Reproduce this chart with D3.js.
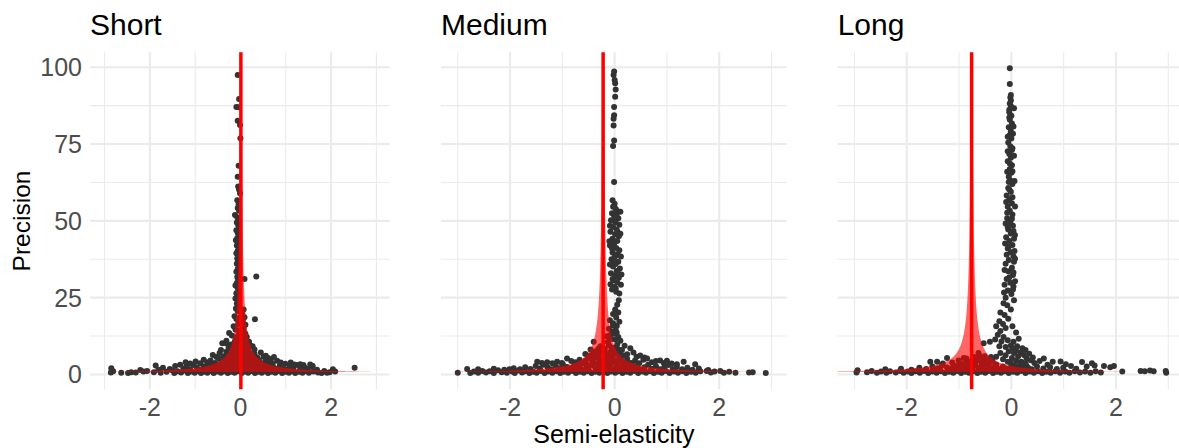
<!DOCTYPE html>
<html><head><meta charset="utf-8">
<script src="https://cdn.jsdelivr.net/npm/d3@7"></script>
<style>
body{margin:0;background:#fff;}
svg text{font-family:"Liberation Sans",Arial,sans-serif;}
</style>
</head><body>
<svg id="chart" width="1179" height="448"></svg>
<script>
// ---- data ----
const panelNames = ["Short", "Medium", "Long"];
const panelMeans = [0.02, -0.21, -0.75];
const xTickValues = [-2, 0, 2];
const xMinorValues = [-3, -1, 1, 3];
const yTickValues = [0, 25, 50, 75, 100];
const yMinorValues = [12.5, 37.5, 62.5, 87.5];
const critValue = 1.96;
const precisionRange = [0.65, 100];

const shortPts = [
[-0.05,97.3],[-0.02,89.5],[-0.08,86.9],[-0.03,86.8],[-0.05,82.4],[0.0,81],[0.01,76.7],[-0.03,67.8],[-0.05,64.2],[-0.04,61],[-0.02,60],[0.0,58.8],[-0.06,56.5],[-0.03,55.2],[-0.05,54],[-0.02,53.1],[-0.11,51.7],[-0.06,51],[-0.03,50.2],[-0.07,49.3],[-0.04,48.5],[-0.02,47.6],[-0.08,46.8],[-0.05,46],[-0.03,45.1],[-0.06,44.2],[-0.09,43.5],[-0.04,42.7],[-0.07,41.8],[-0.02,41],[-0.05,40.1],[-0.08,39.3],[-0.03,38.5],[-0.06,37.6],[-0.04,36.7],[-0.07,35.9],[-0.02,35],[-0.05,34.2],[-0.08,33.3],[-0.03,32.5],[-0.06,31.6],[-0.04,30.8],[0.1,30.9],[0.36,31.7],[-0.07,29.6],[-0.1,28.8],[-0.05,28],[-0.03,27.1],[-0.08,26.3],[-0.06,25.4],[-0.1,24.6],[-0.04,23.8],[-0.07,22.9],[-0.02,22.1],[-0.09,21.3],[-0.05,20.4],[0.05,19.6],[-0.12,18.8],[0.33,17.8],[-0.08,17.9],[0.06,17.1],[-0.04,16.3],[-0.14,15.5],[0.08,15],[-0.1,14.5],[-0.24,13.3],[0.0,13.8],[0.12,13.1],[-0.18,12.5],[-0.06,12.2],[0.05,11.8],[-0.3,10.8],[-0.39,10],[0.2,10.5],[-0.12,10.3],[0.1,9.9],[0.28,9],[-0.22,9.2],[0.0,9.5],
[0.08,21],[0.1,18.5],[0.12,16],[0.09,13.5],[0.15,12],
[-0.31,10],[-0.25,8.6],[-0.2,9.6],[-0.15,8.3],[-0.1,11.2],[-0.05,9.0],[0.03,10.4],[0.08,8.6],[0.13,9.6],[0.18,8.2],[0.23,9.3],[0.32,8.0],
[-0.6,6.2],[-0.52,5.5],[-0.45,6.8],[-0.42,7.8],[-0.36,5.8],[-0.3,7.2],[-0.24,6.0],[-0.18,8.0],[-0.12,5.4],[-0.06,6.9],[0.0,5.7],[0.05,7.5],[0.1,6.1],[0.15,5.3],[0.2,7.0],[0.25,5.8],[0.32,6.6],[0.38,5.4],[0.46,7.0],[0.52,5.6],[0.57,5.9],[0.62,5.2],[0.68,4.8],[0.75,5.5],
[-1.2,3.8],[-1.1,3.4],[-0.98,4.1],[-0.88,3.5],[-0.8,4.6],[-0.72,3.8],[-0.65,4.4],[-0.55,3.6],[-0.47,5.0],[-0.4,4.0],[-0.33,4.7],[-0.25,3.5],[-0.18,4.5],[-0.1,3.8],[-0.03,4.8],[0.05,3.6],[0.12,4.4],[0.2,3.4],[0.27,4.9],[0.35,3.9],[0.42,4.5],[0.5,3.5],[0.57,4.7],[0.65,4.0],[0.72,3.4],[0.82,4.3],[0.9,3.7],[1.0,3.3],[1.12,3.7],[1.2,3.1],[1.33,3.2],[1.4,2.9],[1.6,2.6],[1.55,3.1],
[-1.7,2.0],[-1.55,1.6],[-1.43,2.6],[-1.32,3.0],[-1.25,1.8],[-1.18,2.4],[-1.1,1.5],[-1.02,2.9],[-0.95,2.0],[-0.88,1.4],[-0.8,2.5],[-0.73,1.7],[-0.65,3.0],[-0.58,2.1],[-0.5,1.5],[-0.43,2.7],[-0.36,1.9],[-0.29,3.2],[-0.22,1.4],[-0.15,2.4],[-0.08,1.7],[0.0,2.9],[0.07,1.5],[0.14,2.3],[0.21,3.1],[0.28,1.8],[0.35,2.6],[0.42,1.4],[0.5,2.2],[0.57,3.0],[0.64,1.7],[0.72,2.5],[0.8,1.5],[0.88,2.8],[0.95,1.9],[1.03,1.4],[1.1,2.4],[1.18,1.7],[1.26,2.9],[1.33,1.5],[1.42,2.2],[1.5,1.6],[1.6,2.6],[1.7,1.4],
[-0.9,1.2],[-0.75,1.0],[-0.62,1.3],[-0.48,1.1],[-0.35,1.4],[-0.22,1.2],[-0.1,1.3],[0.02,1.1],[0.15,1.3],[0.28,1.2],[0.4,1.4],[0.53,1.1],[0.66,1.3],[0.78,1.1],[0.9,1.2],
[-0.7,2.2],[-0.55,2.6],[-0.4,2.3],[-0.26,2.0],[-0.12,2.6],[0.03,2.2],[0.17,2.7],[0.3,2.2],[0.45,2.8],[0.6,2.4],[0.75,2.0],
[-0.45,3.2],[-0.3,3.0],[-0.15,3.3],[0.0,3.4],[0.15,3.1],[0.3,3.3],[0.45,3.0],[0.6,3.3],
[-0.35,4.2],[-0.22,4.0],[-0.08,4.3],[0.08,4.1],[0.22,4.2],[0.36,4.0],
[-0.25,5.2],[-0.12,5.0],[0.05,5.1],[0.18,4.8],[0.3,5.4],
[-0.2,6.5],[-0.1,6.2],[0.04,6.6],[0.14,6.9],[0.24,6.6],
[-0.14,7.5],[-0.03,7.8],[0.1,7.2],[0.18,7.7],
[-0.1,9.8],[0.0,10.9],[0.05,9.0],[-0.02,12.8],[0.08,11.2],[-0.04,14.2],[0.04,16.0],[0.0,18.5],
[-2.85,0.5],[-2.84,1.9],[-2.8,0.9],[-2.62,0.4],[-2.47,0.3],[-2.4,0.6],[-2.3,0.5],[-2.2,1.3],[-2.13,0.8],[-2.05,1.0],[-1.9,0.6],[-1.86,2.8],[-1.8,1.4],[-1.75,0.4],[-1.62,0.7],[-1.5,1.2],[-1.45,0.3],[-1.38,0.9],[-1.3,0.5],[-1.22,1.1],[-1.15,0.3],[-1.08,0.8],[-1.0,0.4],[-0.93,1.0],[-0.86,0.3],[-0.8,0.7],[-0.72,0.4],[-0.66,1.0],[-0.58,0.3],[-0.5,0.8],[-0.42,0.4],[-0.35,0.9],[-0.27,0.3],[-0.2,0.7],[-0.12,0.4],[-0.05,0.9],[0.04,0.3],[0.1,0.8],[0.18,0.4],[0.25,1.0],[0.33,0.3],[0.4,0.7],[0.48,0.4],[0.55,0.9],[0.62,0.3],[0.7,0.7],[0.78,0.4],[0.85,1.0],[0.93,0.3],[1.0,0.7],[1.08,0.4],[1.15,0.9],[1.22,0.3],[1.3,0.7],[1.38,0.4],[1.45,1.0],[1.52,0.4],[1.62,0.8],[1.72,0.5],[1.8,0.3],[1.86,1.0],[1.92,0.4],[1.98,0.6],[2.05,1.5],[2.1,0.8],[2.53,2.0]
];

const mediumPts = [
[0.0,98.4],[-0.01,97.3],[0.01,95.7],[0.02,94.6],[0.03,92.6],[0.02,90.2],[0.0,86.9],[0.0,84.2],[-0.01,83.1],[-0.01,80.9],[0.0,76.0],[-0.02,74.2],[0.0,62.5],[-0.03,56.5],[0.01,55.4],
[-0.02,54.4],[0.03,53.8],[0.06,53.0],[-0.04,52.3],[0.0,51.5],[0.08,50.7],[-0.06,50.0],[0.03,49.3],[0.1,48.6],[-0.02,47.8],[0.05,47.0],[-0.07,46.3],[0.02,45.5],[0.09,44.8],[-0.03,44.0],[0.06,43.3],[0.0,42.5],[-0.08,41.8],[0.04,41.0],[0.1,40.3],[-0.03,39.5],[0.07,38.8],[0.01,38.0],[-0.05,37.3],[0.08,36.5],[0.03,35.8],[-0.02,35.0],[0.11,34.3],[0.05,33.5],[-0.06,32.8],[0.02,32.0],[0.09,31.3],[-0.01,30.5],[0.06,29.8],[0.13,29.0],[0.0,28.3],[-0.04,27.5],[0.04,26.8],
[0.05,52.1],[-0.01,49.9],[0.07,46.1],[0.02,43.1],[-0.04,40.8],[0.06,39.0],[0.0,36.2],[0.07,33.0],[-0.03,30.9],[0.03,27.9],
[0.12,52.8],[-0.08,48.2],[0.12,45.6],[-0.09,43.2],[0.13,38.2],[-0.08,35.6],[0.14,32.4],[-0.07,29.2],[0.1,26.2],[0.08,20.0],[0.1,17.0],[0.05,13.5],
[0.09,24],[0.06,22.5],[0.02,21],[-0.02,19.5],[0.04,18.4],[-0.08,17.5],[-0.02,16.5],[0.05,15.6],[-0.1,14.7],[-0.04,13.8],[0.0,13.1],[-0.14,12.3],[0.08,12.0],[-0.06,11.4],[0.12,10.8],
[-0.55,6.5],[-0.47,5.9],[-0.4,7.2],[-0.34,7.5],[-0.3,6.2],[-0.26,9.0],[-0.22,7.0],[-0.18,8.3],[-0.14,6.3],[-0.1,9.4],[-0.06,7.4],[-0.02,6.0],[0.02,8.5],[0.06,6.7],[0.1,7.9],[0.15,7.8],[0.2,9.2],[0.25,6.4],[0.31,8.4],[0.37,7.0],[0.43,5.6],[0.5,6.0],[0.58,5.4],[-0.39,10.5],[-0.45,8.0],
[-1.47,4.0],[-1.38,3.6],[-1.28,3.8],[-1.18,3.5],[-1.09,4.0],[-1.0,3.6],[-0.9,5.0],[-0.82,4.2],[-0.74,3.8],[-0.66,4.6],[-0.58,3.6],[-0.5,5.0],[-0.42,4.1],[-0.35,5.5],[-0.28,3.7],[-0.2,4.8],[-0.12,3.9],[-0.05,5.3],[0.03,4.2],[0.1,5.6],[0.18,3.8],[0.25,4.9],[0.33,3.6],[0.4,4.4],[0.48,3.5],[0.56,4.6],[0.63,5.0],[0.72,3.8],[0.8,4.2],[0.88,4.4],[0.95,3.6],[1.01,4.3],[1.1,3.4],[1.2,3.2],[1.33,4.0],[1.55,3.2],
[-1.2,1.1],[-1.05,1.2],[-0.9,1.3],[-0.75,1.1],[-0.62,1.3],[-0.48,1.0],[-0.35,1.3],[-0.22,1.1],[-0.08,1.3],[0.05,1.1],[0.18,1.2],[0.32,1.3],[0.45,1.0],[0.58,1.2],[0.7,1.1],
[-0.95,2.4],[-0.8,2.0],[-0.66,2.5],[-0.52,2.2],[-0.38,2.6],[-0.25,2.1],[-0.1,2.5],[0.04,2.2],[0.18,2.7],[0.32,2.4],[0.45,2.1],
[-0.68,3.2],[-0.52,3.0],[-0.37,3.3],[-0.22,3.1],[-0.08,3.0],[0.06,3.3],[0.2,3.1],[0.34,3.3],
[-0.55,4.3],[-0.4,4.0],[-0.26,4.3],[-0.12,4.5],[0.0,4.1],[0.14,4.4],[0.25,4.0],
[-0.45,5.4],[-0.3,5.1],[-0.16,5.6],[-0.03,5.0],[0.1,5.3],[0.18,6.0],
[-0.38,6.5],[-0.25,6.8],[-0.1,6.5],[0.04,7.2],[0.12,6.3],
[-0.3,8.2],[-0.18,7.6],[-0.05,8.6],[0.06,9.6],[-0.12,10.4],[0.02,11.2],[-0.08,12.6],[0.03,14.2],[-0.02,15.8],
[-2.6,1.5],[-2.3,1.7],[-2.1,1.4],[-1.92,1.9],[-1.8,1.5],[-1.7,2.2],[-1.6,1.6],[-1.5,2.6],[-1.42,1.8],[-1.35,3.0],[-1.27,2.1],[-1.2,1.5],[-1.12,2.7],[-1.05,1.9],[-0.98,3.2],[-0.9,2.3],[-0.83,1.6],[-0.76,2.9],[-0.69,2.0],[-0.62,3.3],[-0.55,1.5],[-0.48,2.5],[-0.41,3.4],[-0.34,1.8],[-0.27,2.8],[-0.2,1.4],[-0.13,2.4],[-0.06,3.3],[0.01,1.7],[0.08,2.7],[0.15,1.5],[0.22,2.3],[0.29,3.2],[0.36,1.8],[0.43,2.6],[0.5,1.4],[0.58,2.2],[0.65,3.0],[0.72,1.7],[0.8,2.5],[0.88,1.5],[0.96,2.2],[1.04,2.9],[1.12,1.6],[1.2,2.3],[1.3,1.5],[1.4,2.0],[1.5,1.4],[1.62,1.8],[1.8,1.3],
[-2.99,0.4],[-2.81,1.6],[-2.75,0.3],[-2.68,0.8],[-2.6,0.4],[-2.52,1.0],[-2.45,0.5],[-2.38,0.9],[-2.3,0.3],[-2.22,1.2],[-2.15,0.6],[-2.05,0.4],[-2.0,1.5],[-1.95,0.8],[-1.9,0.3],[-1.83,1.1],[-1.76,0.5],[-1.7,0.9],[-1.62,0.3],[-1.55,0.7],[-1.48,0.4],[-1.4,1.0],[-1.33,0.3],[-1.26,0.8],[-1.18,0.4],[-1.1,0.9],[-1.03,0.3],[-0.96,0.7],[-0.88,0.4],[-0.8,1.0],[-0.73,0.3],[-0.66,0.7],[-0.58,0.4],[-0.5,0.9],[-0.43,0.3],[-0.36,0.7],[-0.28,0.4],[-0.2,0.9],[-0.13,0.3],[-0.06,0.8],[0.02,0.4],[0.09,0.9],[0.16,0.3],[0.24,0.7],[0.31,0.4],[0.39,1.0],[0.46,0.3],[0.54,0.8],[0.61,0.4],[0.69,0.9],[0.76,0.3],[0.84,0.7],[0.91,0.4],[0.99,1.0],[1.06,0.3],[1.14,0.8],[1.22,0.4],[1.3,0.9],[1.38,0.3],[1.47,0.7],[1.56,0.4],[1.65,0.9],[1.77,1.0],[1.85,0.5],[1.92,0.8],[2.03,1.0],[2.1,0.4],[2.2,0.7],[2.32,0.4],[2.58,0.5],[2.65,0.6],[2.9,0.3]
];

const longPts = [
[-0.02,99.5],[-0.02,94.4],[0.0,90.8],[-0.01,90.0],[0.0,89.0],[-0.02,88.0],[0.0,87.2],[-0.03,86.0],
[-0.03,85.2],[0.01,84.0],[-0.02,82.7],[0.02,81.5],[-0.04,80.3],[0.0,79.0],[-0.02,77.8],[0.01,76.6],[-0.05,75.3],[-0.01,74.1],[0.02,72.9],[-0.03,71.6],[0.0,70.4],[-0.06,69.2],[0.02,67.9],[-0.02,66.7],[0.01,65.5],[-0.04,64.2],[-0.01,63.0],[0.03,61.8],[-0.05,60.5],[0.0,59.3],[-0.08,58.1],[-0.03,56.8],[0.02,55.6],[-0.06,54.4],[-0.02,53.1],[0.03,51.9],[-0.07,50.7],[-0.01,49.4],[0.04,48.2],[-0.05,47.0],[0.0,45.7],[-0.09,44.5],[-0.03,43.3],[0.03,42.0],[-0.06,40.8],[0.0,39.6],[0.05,38.3],[-0.04,37.1],[-0.1,35.9],[0.02,34.6],[-0.05,33.4],[0.04,32.2],[-0.08,30.9],[-0.01,29.7],[0.05,28.5],[-0.06,27.2],[0.01,26.0],[-0.1,24.8],
[0.03,57.5],[-0.07,52.5],[0.05,46.5],[-0.04,41.5],[0.06,36.5],[-0.03,31.5],[0.04,27.5],[-0.02,68.5],[0.03,73.5],[-0.04,62.5],[0.06,44.0],[-0.08,38.8],[0.02,50.5],[-0.03,60.0],[0.05,33.0],[-0.12,29.0],[0.07,40.0],[-0.06,47.8],
[0.06,86.5],[0.05,80.5],[-0.06,77.2],[0.06,71.0],[-0.07,65.8],[0.07,62.8],[-0.09,56.0],[0.08,54.5],[-0.1,49.0],[0.08,45.2],[-0.11,42.5],[0.08,37.5],[-0.12,33.8],[0.08,30.2],[-0.13,26.5],[0.06,24.0],[0.03,66.0],[-0.06,72.5],[0.04,78.2],[-0.03,83.5],
[-0.14,23.0],[-0.07,22.4],[0.0,21.0],[-0.2,20.0],[-0.12,19.2],[-0.05,18.0],[-0.22,17.2],[-0.15,16.3],[-0.28,15.5],[-0.1,15.0],[-0.2,14.0],[-0.25,12.8],[-0.14,12.0],[-0.3,11.2],[-0.4,10.5],[-0.52,10.0],[-0.18,10.6],[-0.06,11.0],[-0.22,9.0],[-0.1,8.8],[0.0,9.3],
[0.04,8.4],[0.1,7.6],[0.19,7.0],[0.25,6.2],[0.06,6.8],[0.14,5.8],[0.3,5.0],[0.38,4.5],[0.02,5.2],[0.1,4.4],[0.2,4.0],[0.28,3.4],[0.0,3.6],[0.08,2.8],[0.16,2.2],[0.24,2.6],[0.33,2.0],[-0.04,7.4],[-0.1,6.1],[-0.15,4.8],[-0.06,4.0],[0.12,9.0],[0.22,8.4],[-0.2,6.8],[-0.28,5.6],[-0.35,4.2],
[0.05,10.5],[0.15,11.5],[0.1,13.5],[0.03,15.5],[0.28,7.8],[0.35,6.6],[0.42,5.4],[0.18,3.2],[0.3,2.6],[0.12,1.6],[0.26,1.2],[0.4,1.5],
[0.45,3.6],[0.55,4.2],[0.63,5.0],[0.7,3.0],[0.8,4.0],[0.95,4.1],[1.05,3.2],[1.15,2.6],[1.36,3.9],[1.45,2.4],[1.55,3.5],[1.6,2.8],[1.78,2.6],[1.9,2.2],[1.97,2.6],[0.5,2.4],[0.62,1.8],[0.75,2.2],[0.88,1.6],[1.0,2.0],[1.25,1.7],
[-1.54,4.0],[-1.41,4.0],[-1.22,5.2],[-0.9,5.2],[-0.65,4.5],[-0.52,4.9],[-0.6,6.0],[-0.8,4.0],[-1.3,3.4],[-1.12,3.7],[-1.0,4.4],[-0.72,3.5],[-0.45,3.8],[-0.55,3.0],[-0.38,5.5],
[-1.5,1.2],[-1.35,1.1],[-1.2,1.3],[-1.05,1.1],[-0.9,1.3],[-0.76,1.1],[-0.62,1.3],[-0.48,1.1],[-0.34,1.2],[-0.2,1.3],[-0.06,1.1],[0.08,1.2],
[-1.1,2.5],[-0.98,2.8],[-0.85,2.4],[-0.72,2.6],[-0.58,2.3],[-0.44,2.8],[-0.3,2.3],
[-0.95,3.3],[-0.82,3.1],[-0.68,3.4],[-0.55,3.6],[-0.42,3.2],[-0.28,3.1],
[-0.85,4.4],[-0.7,4.1],[-0.58,4.3],[-0.45,4.6],
[-0.7,5.5],[-0.85,5.0],[-0.5,5.8],[-0.62,6.8],
[-2.4,1.5],[-2.1,1.7],[-1.9,1.4],[-1.75,2.0],[-1.62,1.6],[-1.5,2.4],[-1.4,1.8],[-1.32,2.8],[-1.22,2.1],[-1.14,1.5],[-1.05,2.6],[-0.97,1.9],[-0.9,3.0],[-0.82,2.2],[-0.75,1.6],[-0.68,2.8],[-0.6,2.0],[-0.52,1.5],[-0.45,2.5],[-0.38,1.8],[-0.3,2.9],[-0.23,1.6],[-0.15,2.4],[-0.08,1.7],[0.0,2.2],
[-2.95,0.5],[-2.93,1.2],[-2.75,0.6],[-2.66,1.0],[-2.56,0.4],[-2.48,0.8],[-2.38,0.4],[-2.31,0.9],[-2.2,0.5],[-2.12,1.0],[-2.05,0.4],[-1.97,0.8],[-1.9,0.3],[-1.82,0.9],[-1.74,0.4],[-1.66,1.0],[-1.58,0.3],[-1.5,0.8],[-1.42,0.4],[-1.34,0.9],[-1.26,0.3],[-1.18,0.7],[-1.1,0.4],[-1.02,1.0],[-0.95,0.3],[-0.87,0.7],[-0.8,0.4],[-0.72,0.9],[-0.64,0.3],[-0.57,0.7],[-0.49,0.4],[-0.42,1.0],[-0.34,0.3],[-0.27,0.7],[-0.19,0.4],[-0.12,0.9],[-0.04,0.3],[0.04,0.7],[0.12,0.4],[0.2,1.0],[0.28,0.3],[0.36,0.8],[0.44,0.4],[0.52,0.9],[0.6,0.3],[0.68,0.7],[0.76,0.4],[0.85,0.9],[0.94,0.4],[1.04,0.8],[1.12,0.4],[1.22,0.9],[1.32,0.5],[1.42,0.8],[1.52,0.4],[1.62,0.9],[1.72,0.5],[2.13,0.8],[2.48,1.0],[2.56,0.9],[2.66,1.1],[2.73,0.9],[2.96,1.0],[2.97,0.4]
];

const panelData = [shortPts, mediumPts, longPts];

// ---- layout ----
const svg = d3.select("#chart");
const panelRanges = [[90, 389.5], [441, 786.7], [837.7, 1183.5]];
const yPix = [389.3, 52.3];
const xDomain = [-3.31, 3.30];
const yDomain = [-4.985, 104.685];
const gridColor = "#EBEBEB";

const defs = svg.append("defs");

panelNames.forEach((name, i) => {
  const x = d3.scaleLinear().domain(xDomain).range(panelRanges[i]);
  const y = d3.scaleLinear().domain(yDomain).range(yPix);
  const g = svg.append("g");
  const h = yPix[0] - yPix[1];
  const w = panelRanges[i][1] - panelRanges[i][0];

  defs.append("clipPath").attr("id", "clip" + i)
    .append("rect").attr("x", panelRanges[i][0]).attr("y", yPix[1])
    .attr("width", w).attr("height", h);

  // minor grid
  g.append("g").attr("transform", `translate(0,${yPix[0]})`)
    .call(d3.axisBottom(x).tickValues(xMinorValues).tickSize(-h).tickFormat(""))
    .call(s => s.select(".domain").remove())
    .selectAll("line").attr("stroke", gridColor).attr("stroke-width", 1.1);
  g.append("g").attr("transform", `translate(${panelRanges[i][0]},0)`)
    .call(d3.axisLeft(y).tickValues(yMinorValues).tickSize(-w).tickFormat(""))
    .call(s => s.select(".domain").remove())
    .selectAll("line").attr("stroke", gridColor).attr("stroke-width", 1.1);
  // major grid
  g.append("g").attr("transform", `translate(0,${yPix[0]})`)
    .call(d3.axisBottom(x).tickValues(xTickValues).tickSize(-h).tickFormat(""))
    .call(s => s.select(".domain").remove())
    .selectAll("line").attr("stroke", gridColor).attr("stroke-width", 2.1);
  g.append("g").attr("transform", `translate(${panelRanges[i][0]},0)`)
    .call(d3.axisLeft(y).tickValues(yTickValues).tickSize(-w).tickFormat(""))
    .call(s => s.select(".domain").remove())
    .selectAll("line").attr("stroke", gridColor).attr("stroke-width", 2.1);

  // x tick labels
  const xa = g.append("g").attr("transform", `translate(0,${yPix[0]})`)
    .call(d3.axisBottom(x).tickValues(xTickValues).tickSize(0).tickPadding(8.5).tickFormat(d => String(d)));
  xa.select(".domain").remove();
  xa.selectAll("text").attr("fill", "#4D4D4D").style("font-size", "25px");

  if (i === 0) {
    const ya = g.append("g").attr("transform", `translate(${panelRanges[i][0]},0)`)
      .call(d3.axisLeft(y).tickValues(yTickValues).tickSize(0).tickPadding(8).tickFormat(d => String(d)));
    ya.select(".domain").remove();
    ya.selectAll("text").attr("fill", "#4D4D4D").style("font-size", "25px").attr("dy", "0.36em");
  }

  // points
  g.append("g").selectAll("circle").data(panelData[i]).join("circle")
    .attr("cx", d => x(d[0])).attr("cy", d => y(d[1]))
    .attr("r", 3.0).attr("fill", "#333333");

  // funnel
  const mu = panelMeans[i];
  const precs = d3.range(0, 401).map(k => precisionRange[0] * Math.pow(precisionRange[1] / precisionRange[0], k / 400));
  const left = precs.map(p => [mu - critValue / p, p]);
  const right = precs.map(p => [mu + critValue / p, p]).reverse();
  const poly = left.concat(right);
  g.append("path").attr("clip-path", `url(#clip${i})`)
    .attr("d", d3.line().x(d => x(d[0])).y(d => y(d[1]))(poly) + "Z")
    .attr("fill", "#FF0000").attr("fill-opacity", 0.6).attr("stroke", "none");

  // mean line
  g.append("line")
    .attr("x1", x(mu)).attr("x2", x(mu))
    .attr("y1", yPix[1]).attr("y2", yPix[0])
    .attr("stroke", "#FF0000").attr("stroke-width", 3.5);

  // panel title
  svg.append("text").attr("x", panelRanges[i][0]).attr("y", 35)
    .style("font-size", "30px").attr("fill", "#000").text(name);
});

// axis titles
svg.append("text").attr("transform", "translate(30,221) rotate(-90)")
  .attr("text-anchor", "middle").style("font-size", "24.5px").attr("fill", "#000").text("Precision");
svg.append("text").attr("x", (panelRanges[1][0] + panelRanges[1][1]) / 2).attr("y", 443)
  .attr("text-anchor", "middle").style("font-size", "25px").attr("fill", "#000").text("Semi-elasticity");
</script>
</body></html>
